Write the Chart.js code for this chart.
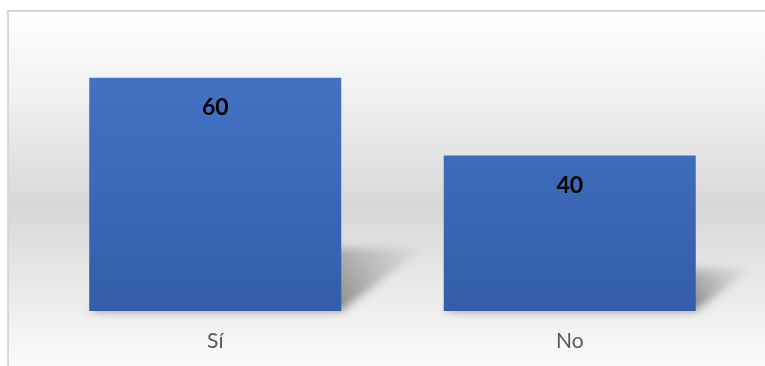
<!DOCTYPE html>
<html lang="es">
<head>
<meta charset="UTF-8">
<title>Sí / No</title>
<style>
  html, body { margin: 0; padding: 0; background: #fff; }
  #wrap { width: 765px; height: 366px; position: relative; }
</style>
</head>
<body>
<div id="wrap"><canvas id="chart"></canvas></div>
<script src="https://cdn.jsdelivr.net/npm/chart.js"></script>
<script>
  // data
  const categories = ['Sí', 'No'];
  const values = [60, 40];
  const axisMax = 70;

  const FONT = 'Lato, "Open Sans", sans-serif';

  // panel background + frame
  const panel = {
    id: 'panel',
    beforeDraw(chart) {
      const ctx = chart.ctx, w = chart.width, h = chart.height;
      ctx.save();
      ctx.fillStyle = '#ffffff';
      ctx.fillRect(0, 0, w, h);
      const g = ctx.createLinearGradient(0, 11, 0, h);
      g.addColorStop(0, '#ffffff');
      g.addColorStop(0.25, '#f0f0f0');
      g.addColorStop(0.55, '#d8d8d8');
      g.addColorStop(0.8, '#ebebeb');
      g.addColorStop(1, '#fbfbfb');
      ctx.fillStyle = g;
      ctx.fillRect(8, 11, w - 8, h - 11);
      ctx.strokeStyle = '#d6d6d6';
      ctx.lineWidth = 2;
      ctx.beginPath();
      ctx.moveTo(8, h);
      ctx.lineTo(8, 11);
      ctx.lineTo(w, 11);
      ctx.stroke();
      ctx.restore();
    }
  };

  // perspective shadow behind each bar
  const barShadow = {
    id: 'barShadow',
    beforeDatasetsDraw(chart) {
      const ctx = chart.ctx;
      const meta = chart.getDatasetMeta(0);
      ctx.save();
      meta.data.forEach(bar => {
        const left = bar.x - bar.width / 2, right = bar.x + bar.width / 2;
        const bottom = bar.base, hgt = bar.base - bar.y;
        const sh = hgt * 0.27, dx = sh * 1.3;
        const g = ctx.createLinearGradient(right, bottom, right + dx, bottom - sh);
        g.addColorStop(0, 'rgba(115,115,115,0.8)');
        g.addColorStop(1, 'rgba(150,150,150,0.05)');
        ctx.filter = 'blur(4px)';
        ctx.fillStyle = g;
        ctx.beginPath();
        ctx.moveTo(left, bottom);
        ctx.lineTo(right, bottom);
        ctx.lineTo(right + dx, bottom - sh);
        ctx.lineTo(left + dx, bottom - sh);
        ctx.closePath();
        ctx.fill();
      });
      ctx.restore();
    }
  };

  // value labels inside the bars
  const valueLabels = {
    id: 'valueLabels',
    afterDatasetsDraw(chart) {
      const ctx = chart.ctx;
      const meta = chart.getDatasetMeta(0);
      ctx.save();
      ctx.font = 'bold 23px ' + FONT;
      ctx.fillStyle = '#000000';
      ctx.textAlign = 'center';
      ctx.textBaseline = 'middle';
      meta.data.forEach((bar, i) => {
        ctx.fillText(values[i], bar.x, bar.y + 30);
      });
      ctx.restore();
    }
  };

  const ctx = document.getElementById('chart').getContext('2d');
  new Chart(ctx, {
    type: 'bar',
    data: {
      labels: categories,
      datasets: [{
        data: values,
        backgroundColor: (c) => {
          const area = c.chart.chartArea;
          if (!area) return '#4472c4';
          const g = c.chart.ctx.createLinearGradient(0, area.top, 0, area.bottom);
          g.addColorStop(0, '#4676c9');
          g.addColorStop(1, '#335da8');
          return g;
        },
        borderWidth: 0,
        categoryPercentage: 1,
        barPercentage: 0.711
      }]
    },
    options: {
      responsive: true,
      maintainAspectRatio: false,
      animation: false,
      layout: { padding: { left: 38, right: 18, top: 39, bottom: 0 } },
      plugins: { legend: { display: false }, tooltip: { enabled: false } },
      scales: {
        x: {
          grid: { display: false },
          border: { display: false },
          ticks: { color: '#595959', font: { family: FONT, size: 21 }, padding: 10 },
          afterFit(scale) { scale.height = 55; }
        },
        y: {
          display: false,
          min: 0,
          max: axisMax
        }
      }
    },
    plugins: [panel, barShadow, valueLabels]
  });
</script>
</body>
</html>
